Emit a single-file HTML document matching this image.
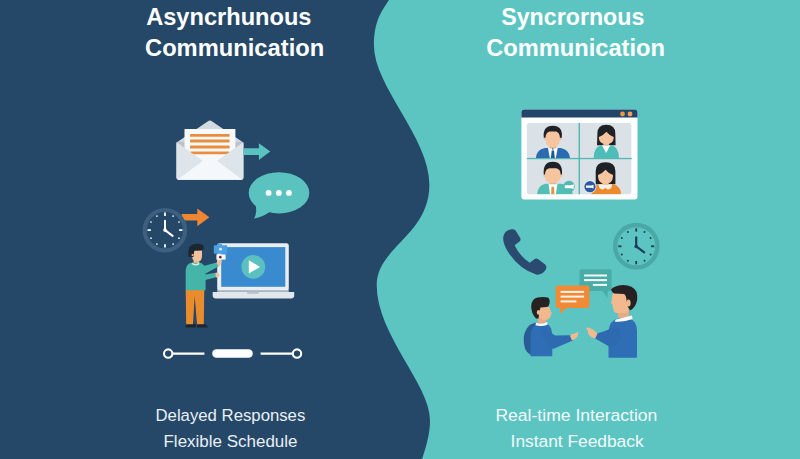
<!DOCTYPE html>
<html><head><meta charset="utf-8">
<style>
html,body{margin:0;padding:0;width:800px;height:459px;overflow:hidden;background:#254768;}
svg{display:block;}
text{font-family:"Liberation Sans",sans-serif;}
</style></head><body>
<svg width="800" height="459" viewBox="0 0 800 459">
<rect x="0" y="0" width="800" height="459" fill="#254768"/>
<path d="M402.1,-41.1 C402.1,2.5 373.9,0.1 373.9,45.2 C373.9,86.5 429.4,137.6 429.4,184.6 C429.4,235.5 376.7,247.2 376.7,285.1 C376.7,335.2 430.0,384.3 430.0,420.6 C430.0,458.6 399.0,493.9 399.0,566.9 L800,566.9 L800,-41.1 Z" fill="#5cc5c2"/>

<!-- titles -->
<g fill="#ffffff" font-weight="bold" font-size="24.5">
<text x="146.2" y="25" textLength="165.3" lengthAdjust="spacingAndGlyphs">Asyncrhunous</text>
<text x="145" y="55.6" textLength="179.2" lengthAdjust="spacingAndGlyphs">Communication</text>
<text x="501.2" y="25" textLength="143.2" lengthAdjust="spacingAndGlyphs">Syncrornous</text>
<text x="486.2" y="55.7" textLength="178.8" lengthAdjust="spacingAndGlyphs">Communication</text>
</g>
<g font-size="17.2">
<text x="155.5" y="421.4" fill="#e9eff5" textLength="149.8" lengthAdjust="spacingAndGlyphs">Delayed Responses</text>
<text x="163.5" y="447.4" fill="#e9eff5" textLength="134" lengthAdjust="spacingAndGlyphs">Flexible Schedule</text>
<text x="495.4" y="420.6" fill="#f2fafa" textLength="162" lengthAdjust="spacingAndGlyphs">Real-time Interaction</text>
<text x="510.6" y="446.8" fill="#f2fafa" textLength="133" lengthAdjust="spacingAndGlyphs">Instant Feedback</text>
</g>

<!-- ENVELOPE -->
<g>
<path d="M176.6,142.4 L207.6,121.4 Q209.9,119.8 212.2,121.4 L243.3,142.4 Z" fill="#d3dae0"/>
<rect x="176.4" y="141.8" width="67" height="37.9" rx="2.3" fill="#b9c3cb"/>
<rect x="184.5" y="129" width="50.9" height="36" fill="#f6f8f9"/>
<g fill="#e98e3d">
<rect x="190" y="133.9" width="39.6" height="2.9" rx="0.6"/>
<rect x="190" y="139.5" width="39.6" height="2.9" rx="0.6"/>
<rect x="190" y="145.6" width="39.6" height="2.9" rx="0.6"/>
<rect x="190" y="151.4" width="39.6" height="2.9" rx="1.3"/>
</g>
<path d="M176.4,142 L209.9,166 L243.5,142 L243.5,177.4 Q243.5,179.7 241.2,179.7 L178.7,179.7 Q176.4,179.7 176.4,177.4 Z" fill="#dde4ea"/>
<path d="M177.5,179.7 L209.9,155.5 L242.4,179.7 Z" fill="#f5f8fa"/>
</g>
<!-- teal arrow -->
<path d="M243.5,148.2 H258.9 V143.2 L270.2,151.6 L258.9,159.9 V155 H243.5 Z" fill="#5ac3c0"/>

<!-- speech bubble -->
<g fill="#5bc3bf">
<ellipse cx="279" cy="192.8" rx="30.3" ry="20.6"/>
<path d="M255,203 Q258,212 254,218.6 Q263,217 271,211 Z"/>
</g>
<g fill="#ffffff">
<circle cx="268.6" cy="192.9" r="2.9"/>
<circle cx="278.8" cy="192.9" r="2.9"/>
<circle cx="288.9" cy="192.9" r="2.9"/>
</g>

<!-- orange arrow -->
<path d="M181.7,214.1 H197.3 V208.5 L209.4,217.3 L197.3,226.2 V220.5 H181.7 Z" fill="#ee8634"/>

<!-- clock left -->
<g>
<circle cx="164.9" cy="230.2" r="20.2" fill="#254768" stroke="#3d5f80" stroke-width="4.2"/>
<g stroke="#ffffff" stroke-width="1.8" stroke-linecap="butt">
<line x1="165" y1="212.6" x2="165" y2="216"/>
<line x1="165" y1="244.2" x2="165" y2="247.6"/>
<line x1="147.5" y1="230.1" x2="150.9" y2="230.1"/>
<line x1="179.1" y1="230.1" x2="182.5" y2="230.1"/>
</g>
<g fill="#ffffff"><circle cx="173.1" cy="216.1" r="0.85"/><circle cx="179.0" cy="222.0" r="0.85"/><circle cx="179.0" cy="238.2" r="0.85"/><circle cx="173.1" cy="244.1" r="0.85"/><circle cx="156.9" cy="244.1" r="0.85"/><circle cx="151.0" cy="238.2" r="0.85"/><circle cx="151.0" cy="222.0" r="0.85"/><circle cx="156.9" cy="216.1" r="0.85"/></g>
<g stroke="#ffffff" stroke-width="2" stroke-linecap="round">
<line x1="165" y1="230.1" x2="165" y2="220.8"/>
<line x1="165" y1="230.1" x2="172.6" y2="235.9"/>
</g>
<circle cx="165" cy="230.1" r="1.8" fill="#fff"/>
</g>

<!-- laptop -->
<g>
<rect x="217.2" y="243.2" width="71.6" height="48" rx="2.4" fill="#e9eef2"/>
<rect x="221.2" y="247.1" width="64.1" height="39.7" fill="#3a8ad0"/>
<rect x="217.2" y="290.1" width="71.6" height="1.8" fill="#b3bcc5"/>
<path d="M212.7,291.9 H294.2 V295.6 Q294.2,298.6 291,298.6 H215.9 Q212.7,298.6 212.7,295.6 Z" fill="#e2e7eb"/>
<rect x="247" y="291.7" width="11.8" height="2.1" rx="0.8" fill="#b9c2ca"/>
<circle cx="253.3" cy="266.9" r="11.9" fill="#5cbfc0"/>
<path d="M248.8,260.3 L260,266.9 L248.8,273.6 Z" fill="#ffffff"/>
</g>

<!-- person left -->
<g>
<path d="M185.7,327.6 V325.5 Q185.7,324 187.5,324 H195.9 V327.6 Z" fill="#1c2630"/>
<path d="M197,327.6 V324 H204 Q207.7,325 207.7,327.6 Z" fill="#1c2630"/>
<path d="M185.7,290 H204.3 L203.8,324.2 H197 L194.7,296 L193,324.2 H186.2 Z" fill="#ea8c2e"/>
<path d="M185.7,290.3 V270 Q186.5,262.8 193,262.4 H199 Q205,263 205.6,271 V290.3 Z" fill="#45b5a9"/>
<path d="M201.5,266.5 L216.8,262.4 L218.8,266.3 L205.8,273.5 Z" fill="#45b5a9"/>
<path d="M197,276 L215.6,272.8 L216.3,277.2 L199,281.5 Z" fill="#45b5a9"/>
<path d="M216.5,262.8 Q217.5,260 219.5,260.3 L221.4,259.8 Q222,261.5 221.3,263.5 Q220.5,266 218.5,266.5 Z" fill="#f3c29c"/>
<path d="M215.3,273 Q217,272.2 218.8,273 Q220,275 219,277 Q217.5,277.8 215.8,277.3 Z" fill="#f3c29c"/>
<path d="M191.8,262.6 Q195.5,265.5 199.5,262.6 L199,264.8 Q195.5,266 192.5,264.8 Z" fill="#d8efe9"/>
<rect x="193.5" y="258" width="5.6" height="5" fill="#e8b089"/>
<path d="M192,251 V256 Q192.3,261.8 197.5,261.8 Q202,261.5 202,256 V250 Z" fill="#f3c29c"/>
<path d="M188.5,256.8 Q187.8,248 190.5,246 Q194,243.3 199,244 Q203.5,244.2 203.8,246.8 Q204,249.5 202.3,250.5 Q197.5,250.8 194.5,250.3 Q193.7,253.5 193.5,257 Z" fill="#1c2630"/>
<circle cx="192.6" cy="255" r="1.1" fill="#f0b48c"/>
</g>
<!-- card held -->
<rect x="213.8" y="245.2" width="13.5" height="8.5" rx="0.6" fill="#4b9fe3"/><rect x="218" y="243.8" width="4" height="2" rx="0.5" fill="#4b9fe3"/>
<path d="M218.8,250.3 Q218.8,247.6 220.5,247.6 Q222.2,247.6 222.2,250.3 Z" fill="#d9ecfb"/>
<rect x="216.4" y="254.4" width="9.2" height="5.2" fill="#f6f8fa"/>
<circle cx="220.3" cy="257.2" r="1.35" fill="#7a2e22"/>

<!-- progress line -->
<g stroke="#ffffff" stroke-width="2.1" fill="none">
<circle cx="168.2" cy="353.6" r="4.2"/>
<line x1="172.6" y1="353.6" x2="204.4" y2="353.6"/>
<line x1="260.6" y1="353.6" x2="292.6" y2="353.6"/>
<circle cx="297" cy="353.6" r="4.2"/>
</g>
<rect x="212.2" y="349.3" width="40.6" height="8.5" rx="4.25" fill="#ffffff"/>

<!-- VIDEO WINDOW -->
<g>
<rect x="521.4" y="109.6" width="116.1" height="90" rx="3" fill="#fdfefe"/>
<path d="M521.4,117.4 V112.6 Q521.4,109.6 524.4,109.6 H634.5 Q637.5,109.6 637.5,112.6 V117.4 Z" fill="#23456a"/>
<circle cx="622.5" cy="114" r="2.4" fill="#ef9646"/>
<circle cx="630" cy="114" r="2.4" fill="#f0a050"/>
<rect x="526.9" y="123" width="104.4" height="71.3" rx="2.5" fill="#dae1e7"/>
<rect x="578.6" y="122.9" width="1.4" height="71.4" fill="#52b8b5"/>
<rect x="526.9" y="157.9" width="104.8" height="1.3" fill="#52b8b5"/>
</g>

<defs><clipPath id="tileclip"><rect x="526.9" y="122.9" width="104.8" height="71.4" rx="2.5"/></clipPath></defs>
<g clip-path="url(#tileclip)">
<!-- TL man -->
<path d="M535.9,158 Q536.3,149.5 545,148 H560.5 Q569.5,149.5 570,158 Z" fill="#2b6cb0"/>
<path d="M548,148 H557.7 L555.8,158 H549.8 Z" fill="#ffffff"/>
<path d="M551.7,150.5 H554 L554.8,158 H550.9 Z" fill="#1d5a94"/>
<path d="M551.9,148 L552.85,150.5 L553.8,148 Z" fill="#1d5a94"/>
<rect x="549.5" y="143" width="6.6" height="5.5" fill="#e9b38e"/>
<circle cx="545" cy="138.5" r="1.5" fill="#f3bf98"/>
<circle cx="560.5" cy="138.5" r="1.5" fill="#f3bf98"/>
<path d="M543.8,137.8 Q542.5,125.7 552.8,125.7 Q563,125.7 561.8,137.8 Z" fill="#1e2125"/>
<path d="M545.5,137.5 Q545.8,132.5 549.5,131.6 H556 Q559.6,132.5 559.9,137.5 V140 Q559.3,147 552.7,147.2 Q546.1,147 545.5,140 Z" fill="#f6c49e"/>

<!-- TR woman -->
<path d="M597.4,133.5 Q597.4,124.8 606.3,124.8 Q615.3,124.8 615.3,133.5 L615.6,145.3 H597 Z" fill="#1e2125"/>
<path d="M593.7,158 Q593.8,147 601,145.3 H611.5 Q618.8,147 619,158 Z" fill="#4dbdb7"/>
<path d="M602,145.3 H610.3 L606.1,153.1 Z" fill="#ffffff"/>
<rect x="603.3" y="141" width="5.7" height="4.5" fill="#e9b38e"/>
<path d="M598.9,137 Q603.5,135.5 606.3,131.8 Q609.5,135.5 613.7,137 V138.5 Q613.2,143.4 606.3,144.6 Q599.4,143.4 598.9,138.5 Z" fill="#f6c49e"/>

<!-- BL man -->
<path d="M537,194.5 Q537.5,185.5 545.5,183.8 H561.5 Q572.5,185.5 572.9,194.5 Z" fill="#52bfb5"/>
<path d="M548.5,183.8 H557.5 L555.8,194.5 H550 Z" fill="#ffffff"/>
<path d="M551.5,186.7 H554 L554.4,194.5 H551.1 Z" fill="#e8923e"/>
<rect x="549.6" y="179" width="6.6" height="5.3" fill="#e9b38e"/>
<circle cx="544.6" cy="175.5" r="1.5" fill="#f3bf98"/>
<circle cx="561" cy="175.5" r="1.5" fill="#f3bf98"/>
<path d="M543.8,174.5 Q542.6,161.7 552.8,161.7 Q563,161.7 561.9,174.5 Z" fill="#1e2125"/>
<path d="M545,174 Q545.3,169 549.3,168.2 H556.3 Q560.3,169 560.6,174 V177 Q560,182.8 552.8,183 Q545.6,182.8 545,177 Z" fill="#f6c49e"/>
<circle cx="569" cy="186.6" r="5.8" fill="#4fb9b2"/>
<path d="M564.8,185.3 H571 L573.8,184.3 V189 L571,188.2 H564.8 Z" fill="#ffffff"/>

<!-- BR woman -->
<path d="M595.7,171 Q595.7,162.2 605.5,162.2 Q615.4,162.2 615.4,171 V184.3 H595.7 Z" fill="#1e2125"/>
<path d="M591.4,194.5 Q591.8,186 598.5,184.3 H613 Q620.8,186 621.1,194.5 Z" fill="#ee8a2e"/>
<path d="M598.6,184.3 H612 Q612,189.5 607.3,189.5 L605.3,187.8 L603.3,189.5 Q598.6,189.5 598.6,184.3 Z" fill="#fbeee2"/>
<rect x="602.6" y="180" width="5.7" height="4.6" fill="#e9b38e"/>
<path d="M598,175 Q602.5,173.5 605.5,169.8 Q608.5,173.5 613,175 V176.5 Q612.6,183.3 605.5,184.5 Q598.4,183.3 598,176.5 Z" fill="#f6c49e"/>
<circle cx="590" cy="186.7" r="6.4" fill="#e8eef6"/>
<circle cx="590" cy="186.7" r="5.6" fill="#2c5aa0"/>
<path d="M586,185.6 H591.5 L593.5,184.8 V188.6 L591.5,187.8 H586 Z" fill="#ffffff"/>
</g>


<!-- PHONE -->
<path d="M511.5,229.3 Q514.3,229 515.6,230.6 L520.3,238.3 Q521.2,240.5 519.3,241.8 L514.6,245.3 Q519.5,256 529.8,262.7 L534.3,259.2 Q536.2,257.8 538,259 L545.2,264.4 Q547.3,266.8 545.8,269.6 Q542.5,275.2 536.2,274.6 Q518,268.5 507.2,250.5 Q502.2,242 503.4,236.2 Q505,230.2 511.5,229.3 Z" fill="#2a4b6f"/>

<!-- clock right -->
<g>
<circle cx="636.3" cy="246.2" r="21.2" fill="none" stroke="#4aa8a6" stroke-width="4.3"/>
<g stroke="#1e3d5c" stroke-width="1.8">
<line x1="636.2" y1="228.3" x2="636.2" y2="231.6"/>
<line x1="636.2" y1="261" x2="636.2" y2="264.3"/>
<line x1="618.2" y1="246.3" x2="621.5" y2="246.3"/>
<line x1="651" y1="246.3" x2="654.3" y2="246.3"/>
</g>
<g fill="#1e3d5c"><circle cx="644.5" cy="231.9" r="1.0"/><circle cx="650.6" cy="238.0" r="1.0"/><circle cx="650.6" cy="254.6" r="1.0"/><circle cx="644.5" cy="260.7" r="1.0"/><circle cx="627.9" cy="260.7" r="1.0"/><circle cx="621.8" cy="254.6" r="1.0"/><circle cx="621.8" cy="238.0" r="1.0"/><circle cx="627.9" cy="231.9" r="1.0"/></g>
<g stroke="#1e3d5c" stroke-width="2.2" stroke-linecap="round">
<line x1="636.2" y1="246.3" x2="636.2" y2="237.3"/>
<line x1="636.2" y1="246.3" x2="644.2" y2="252.4"/>
</g>
<circle cx="636.2" cy="246.5" r="1.8" fill="#1e3d5c"/>
</g>

<!-- bubbles -->
<path d="M581.5,269.2 H609.6 Q611.6,269.2 611.6,271.2 V288.9 Q611.6,290.9 609.6,290.9 H607.6 V298 L602.3,290.9 H581.5 Q579.5,290.9 579.5,288.9 V271.2 Q579.5,269.2 581.5,269.2 Z" fill="#4aaca7"/>
<g stroke="#f4fbfb" stroke-width="2">
<line x1="584.1" y1="275.5" x2="607" y2="275.5"/>
<line x1="584.1" y1="280.1" x2="607" y2="280.1"/>
<line x1="592.9" y1="284.9" x2="607" y2="284.9"/>
</g>
<path d="M557.7,285.6 H587.4 Q589.4,285.6 589.4,287.6 V306.1 Q589.4,308.1 587.4,308.1 H566.5 L560,313.8 L560,308.1 H557.7 Q555.7,308.1 555.7,306.1 V287.6 Q555.7,285.6 557.7,285.6 Z" fill="#f18a36"/>
<g stroke="#fdf3ea" stroke-width="2">
<line x1="560.6" y1="291.9" x2="584.1" y2="291.9"/>
<line x1="560.6" y1="296.6" x2="584.1" y2="296.6"/>
<line x1="560.6" y1="301.4" x2="576.4" y2="301.4"/>
</g>

<!-- talking left person -->
<g>
<path d="M536.5,322.5 Q525,324.5 523.7,338 Q523.4,351 530,354.5 H536.5 Z" fill="#295b94"/>
<path d="M530.5,356.3 V337 Q530.5,324.5 539.5,323.2 H545.5 Q552.3,325 552.3,337 V356.3 Z" fill="#2f6eb5"/>
<path d="M542,326 Q550,332 555,335.5 L570.5,335.3 L572.8,340.5 L553,349 Q545,344 541.5,333 Z" fill="#2d6ab0"/>
<path d="M570,335.8 Q572,333.5 575,333.5 L577.5,331.8 Q579,332.5 578,334.5 Q577.5,338 573.5,339.8 L571.8,340.3 Z" fill="#f2b98f"/>
<path d="M538,316 H546 V323.5 H538 Z" fill="#e6ab84"/>
<path d="M536,322.4 Q541.5,325 547.2,321.9 L547.5,324.8 Q541.5,327 535.5,325.3 Z" fill="#ffffff"/>
<path d="M540,307 H549 Q550.6,309 551,312 L552,313 L551,314.5 Q550.5,319.8 545,320 Q540,319.5 539,316 Z" fill="#f2b98f"/>
<path d="M536,318.5 Q531,313 531.2,306 Q531.5,299 537.5,297.5 Q543,296.5 547.9,297.5 Q550,298.5 549.6,303 Q549,306.5 547,307 L540.5,307.5 L539.5,311 L538.5,318.5 Z" fill="#262223"/>
<ellipse cx="538.5" cy="312.4" rx="1.7" ry="2.4" fill="#f2b98f"/>
</g>
<!-- talking right person -->
<g>
<path d="M608.5,357.8 V333 Q608.8,319.8 619,318.4 H628 Q637,319.5 637,331 V357.8 Z" fill="#2f6eb5"/>
<path d="M619,327 Q620,334 621,338 Q617,345 610,347 L594.8,338.2 L597,333.6 Q606,331 612,328 Z" fill="#2d6ab0"/>
<path d="M597.5,333.5 Q594,329.5 590,328 Q587,327 586.3,328 Q586,329.5 588,330.8 Q587.3,334 590.5,336.5 Q593,338 595.2,338.4 Z" fill="#f2b98f"/>
<path d="M618,309 H629 V318 H618 Z" fill="#e6ab84"/>
<path d="M616,319.5 Q623,318 632,315.6 L632.5,319 Q623,322.5 614.5,321.5 Z" fill="#ffffff"/>
<path d="M613,293 H627 Q629,302 628.5,309 Q628,312.5 625,313 L616,313 Q614,312.5 613.5,309 L612.5,306 Q612,305 613,304.5 L610.8,303 Q610.5,302 611.8,301 Q611.5,297 613,293 Z" fill="#f2b98f"/>
<path d="M611,289.5 Q614,285.5 623,285 Q633,285 636.6,292 Q638.5,300 635,306 Q632.5,309.5 630,310.5 L627.5,306 L626.5,300 Q626,295 624,294 L614,293.5 Q611.5,292 611,289.5 Z" fill="#262223"/>
<ellipse cx="628.5" cy="303" rx="2.1" ry="3.5" fill="#f2b98f"/>
</g>
</svg>
</body></html>
